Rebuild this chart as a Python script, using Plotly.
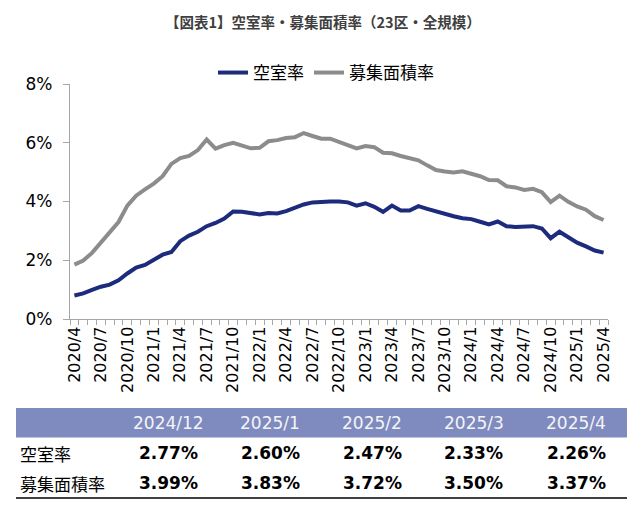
import plotly.graph_objects as go

# page has an 8px body margin: draw a figure that fits inside it
OX, OY = 8, 8
W, H = 622, 494

# ---- data ----
months = []
y, m = 2020, 4
while (y, m) <= (2025, 4):
    months.append(f"{y}/{m}")
    m += 1
    if m > 12:
        y, m = y + 1, 1

vacancy = [0.80, 0.87, 0.99, 1.10, 1.17, 1.32, 1.55, 1.75, 1.84, 2.00,
           2.19, 2.28, 2.65, 2.84, 2.97, 3.16, 3.27, 3.42, 3.66, 3.65,
           3.59, 3.56, 3.61, 3.59, 3.67, 3.78, 3.90, 3.97, 4.00, 4.00,
           4.00, 3.97, 3.86, 3.94, 3.82, 3.65, 3.86, 3.69, 3.69, 3.84,
           3.75, 3.66, 3.59, 3.50, 3.43, 3.40, 3.31, 3.22, 3.32, 3.16,
           3.13, 3.13, 3.16, 3.08, 2.75, 2.97, 2.77, 2.60, 2.47, 2.33,
           2.26]

asking = [1.85, 1.99, 2.25, 2.59, 2.95, 3.30, 3.86, 4.20, 4.41, 4.61,
          4.86, 5.28, 5.48, 5.55, 5.75, 6.11, 5.80, 5.92, 6.00, 5.89,
          5.81, 5.83, 6.05, 6.09, 6.16, 6.19, 6.33, 6.23, 6.14, 6.14,
          6.03, 5.91, 5.81, 5.89, 5.85, 5.66, 5.64, 5.55, 5.48, 5.40,
          5.23, 5.07, 5.02, 4.99, 5.03, 4.95, 4.86, 4.73, 4.72, 4.52,
          4.48, 4.39, 4.43, 4.32, 3.98, 4.20, 3.99, 3.83, 3.72, 3.50,
          3.37]

series_names = ["空室率", "募集面積率"]
table_months = months[-5:]
table_vacancy = vacancy[-5:]
table_asking = asking[-5:]

y_ticks = [0, 2, 4, 6, 8]
tick_labels = [mo if i % 3 == 0 else "" for i, mo in enumerate(months)]

title_text = "【図表1】空室率・募集面積率（23区・全規模）"

# ---- layout helpers (window pixel -> paper) ----
def px(x):
    return (x - OX) / W

def py(yy):
    return 1 - (yy - OY) / H

LATIN = "DejaVu Sans, Noto Sans CJK JP"
CJK = "Noto Sans CJK JP, DejaVu Sans"
BLUE = "#1C2B7C"
GRAY = "#8C8C8C"
AXIS = "#A6A6A6"

fig = go.Figure()
fig.add_trace(go.Scatter(x=months, y=vacancy, mode="lines", name=series_names[0],
                         line=dict(color=BLUE, width=4)))
fig.add_trace(go.Scatter(x=months, y=asking, mode="lines", name=series_names[1],
                         line=dict(color=GRAY, width=4)))

fig.update_layout(
    width=W, height=H, autosize=False,
    margin=dict(l=0, r=0, t=0, b=0, pad=0),
    paper_bgcolor="white", plot_bgcolor="white",
    font=dict(family=LATIN, color="black"),
    showlegend=True,
    legend=dict(orientation="h", x=px(326), xanchor="center", y=py(73), yanchor="middle",
                font=dict(family=CJK, size=17, color="black"),
                itemwidth=30, tracegroupgap=0, bgcolor="rgba(0,0,0,0)"),
    xaxis=dict(type="category", domain=[px(70), px(608)], range=[-0.5, len(months) - 0.5],
               tickmode="array", tickvals=months, ticktext=tick_labels,
               tickson="boundaries", ticks="outside", ticklen=5, tickcolor=AXIS,
               tickangle=-90, tickfont=dict(family=LATIN, size=16, color="black"),
               showline=True, linecolor=AXIS, linewidth=1.3, showgrid=False,
               zeroline=False, automargin=False, fixedrange=True),
    yaxis=dict(domain=[py(319), py(84)], range=[0, 8], tickmode="array",
               tickvals=y_ticks, ticktext=[f"{v}%" for v in y_ticks],
               ticks="outside", ticklen=6, tickcolor=AXIS,
               tickfont=dict(family=LATIN, size=17, color="black"),
               showline=True, linecolor=AXIS, linewidth=1.3, showgrid=False,
               zeroline=False, automargin=False, ticklabelstandoff=7),
)

# title as an annotation anchored at its top so it stays inside the page
fig.add_annotation(x=px(323), y=py(8.5), xref="paper", yref="paper",
                   text=f"<b>{title_text}</b>", showarrow=False,
                   xanchor="center", yanchor="top",
                   font=dict(family=CJK, size=14.5, color="#404040"))

# ---- table below the chart ----
col_x = [168, 270, 372, 474, 576]
fig.add_shape(type="rect", xref="paper", yref="paper",
              x0=px(16), x1=px(627), y0=py(437.5), y1=py(408),
              fillcolor="#7F8BBE", line=dict(width=0), layer="below")
fig.add_shape(type="line", xref="paper", yref="paper",
              x0=px(16), x1=px(627), y0=py(498), y1=py(498),
              line=dict(color="black", width=1.5))

for cx, mo, v1, v2 in zip(col_x, table_months, table_vacancy, table_asking):
    fig.add_annotation(x=px(cx), y=py(423), xref="paper", yref="paper", text=mo,
                       showarrow=False, xanchor="center", yanchor="middle",
                       font=dict(family=LATIN, size=17, color="#F4F4F8"))
    fig.add_annotation(x=px(cx), y=py(453), xref="paper", yref="paper",
                       text=f"<b>{v1:.2f}%</b>", showarrow=False,
                       xanchor="center", yanchor="middle",
                       font=dict(family=LATIN, size=17, color="black"))
    fig.add_annotation(x=px(cx), y=py(483), xref="paper", yref="paper",
                       text=f"<b>{v2:.2f}%</b>", showarrow=False,
                       xanchor="center", yanchor="middle",
                       font=dict(family=LATIN, size=17, color="black"))

for name, yy in zip(series_names, [453, 483]):
    fig.add_annotation(x=px(18), y=py(yy), xref="paper", yref="paper", text=name,
                       showarrow=False, xanchor="left", yanchor="middle",
                       font=dict(family=CJK, size=17, color="black"))

fig.write_html("out.html")
